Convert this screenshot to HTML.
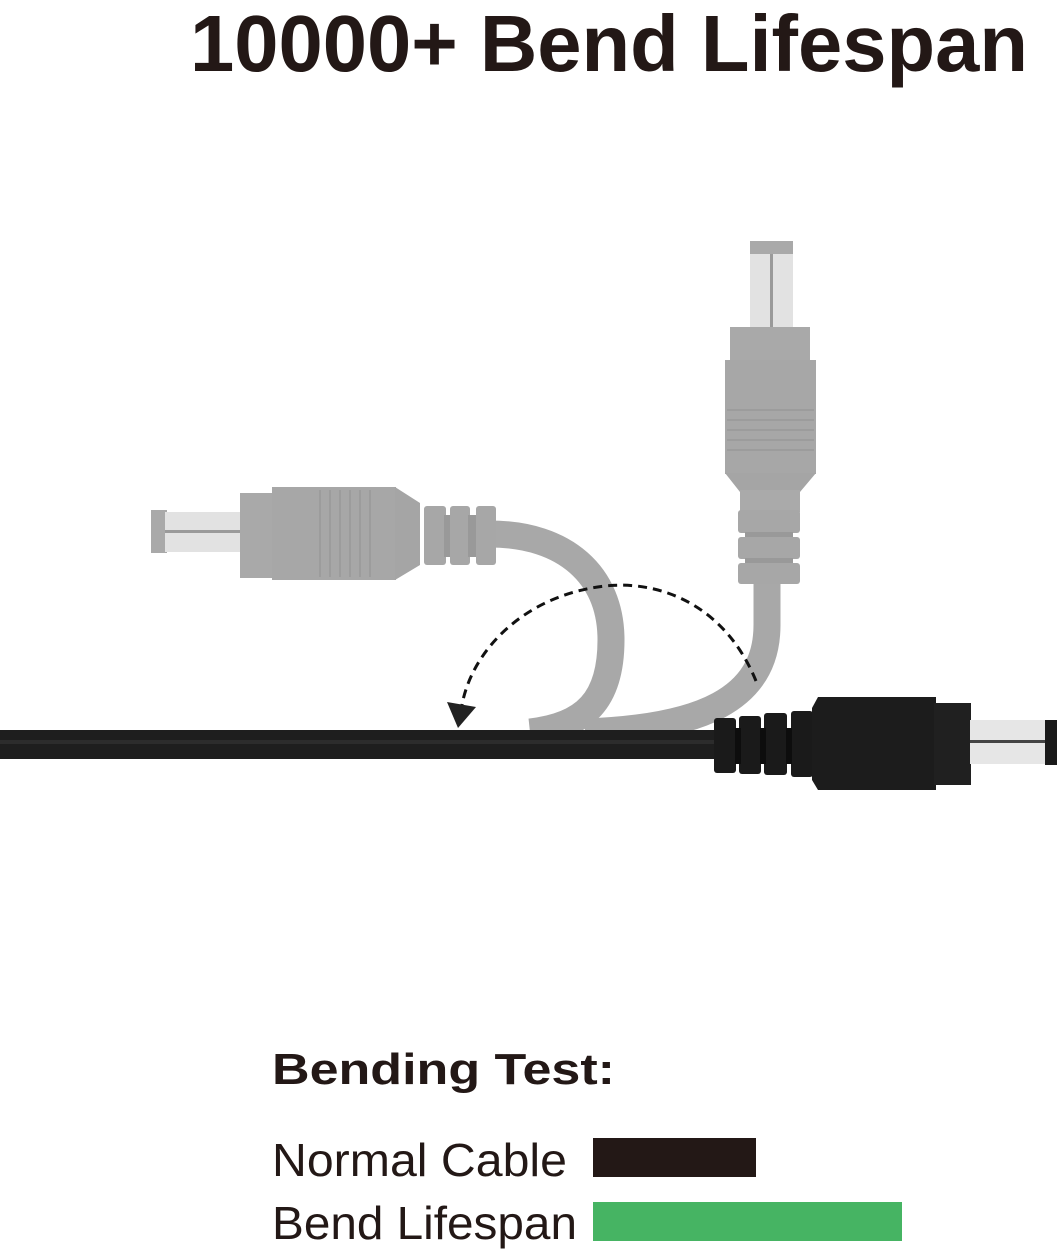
<!DOCTYPE html>
<html><head><meta charset="utf-8"><style>
html,body{margin:0;padding:0;background:#fff;}
svg{display:block;}
</style></head><body>
<svg width="1063" height="1253" viewBox="0 0 1063 1253" xmlns="http://www.w3.org/2000/svg">
<rect width="1063" height="1253" fill="#fff"/>
<text x="190" y="71" font-family="Liberation Sans, sans-serif" font-weight="bold" font-size="80" fill="#231816" textLength="838" lengthAdjust="spacingAndGlyphs">10000+ Bend Lifespan</text>

<!-- gray cables -->
<path d="M490,534 C565,534 611,575 611,640 C611,700 585,726 530,732" fill="none" stroke="#a8a8a8" stroke-width="27"/>
<path d="M767,575 L767,625 C767,700 700,728 585,732" fill="none" stroke="#a8a8a8" stroke-width="27"/>

<!-- horizontal gray connector -->
<g>
<rect x="151" y="510" width="16" height="43" fill="#a9a9a9"/>
<rect x="165" y="512" width="76" height="40" fill="#e2e2e2"/>
<rect x="165" y="530" width="76" height="3" fill="#9a9a9a"/>
<rect x="240" y="493" width="34" height="85" fill="#a9a9a9"/>
<rect x="272" y="487" width="124" height="93" fill="#a7a7a7"/>
<g stroke="#9c9c9c" stroke-width="2">
<line x1="320" y1="490" x2="320" y2="577"/><line x1="330" y1="490" x2="330" y2="577"/><line x1="340" y1="490" x2="340" y2="577"/><line x1="350" y1="490" x2="350" y2="577"/><line x1="360" y1="490" x2="360" y2="577"/><line x1="370" y1="490" x2="370" y2="577"/></g>
<polygon points="395,487 420,503 420,565 395,580" fill="#a5a5a5"/>
<rect x="424" y="506" width="22" height="59" rx="3" fill="#a7a7a7"/>
<rect x="444" y="515" width="8" height="42" fill="#999"/>
<rect x="450" y="506" width="20" height="59" rx="3" fill="#a7a7a7"/>
<rect x="468" y="515" width="10" height="42" fill="#999"/>
<rect x="476" y="506" width="20" height="59" rx="3" fill="#a7a7a7"/>
</g>

<!-- vertical gray connector -->
<g>
<rect x="750" y="241" width="43" height="14" fill="#a9a9a9"/>
<rect x="750" y="254" width="43" height="74" fill="#e2e2e2"/>
<rect x="770" y="254" width="3" height="74" fill="#9a9a9a"/>
<rect x="730" y="327" width="80" height="34" fill="#a9a9a9"/>
<rect x="725" y="360" width="91" height="114" fill="#a7a7a7"/>
<g stroke="#9c9c9c" stroke-width="2">
<line x1="727" y1="410" x2="814" y2="410"/><line x1="727" y1="420" x2="814" y2="420"/><line x1="727" y1="430" x2="814" y2="430"/><line x1="727" y1="440" x2="814" y2="440"/><line x1="727" y1="450" x2="814" y2="450"/></g>
<polygon points="725,473 816,473 800,492 740,492" fill="#a5a5a5"/>
<rect x="740" y="490" width="60" height="22" fill="#aaa"/>
<rect x="738" y="510" width="62" height="23" rx="3" fill="#a7a7a7"/>
<rect x="745" y="532" width="48" height="6" fill="#999"/>
<rect x="738" y="537" width="62" height="22" rx="3" fill="#a7a7a7"/>
<rect x="745" y="558" width="48" height="6" fill="#999"/>
<rect x="738" y="563" width="62" height="21" rx="3" fill="#a7a7a7"/>
</g>

<!-- black cable -->
<rect x="0" y="730" width="725" height="29" fill="#1e1e1e"/>
<rect x="0" y="740" width="725" height="4" fill="#2c2c2c"/>

<!-- black connector -->
<g>
<rect x="714" y="718" width="22" height="55" rx="3" fill="#1a1a1a"/>
<rect x="739" y="716" width="22" height="58" rx="3" fill="#1a1a1a"/>
<rect x="764" y="713" width="23" height="62" rx="3" fill="#1a1a1a"/>
<rect x="791" y="711" width="22" height="66" rx="3" fill="#1a1a1a"/>
<rect x="735" y="728" width="6" height="36" fill="#0d0d0d"/>
<rect x="760" y="728" width="6" height="36" fill="#0d0d0d"/>
<rect x="786" y="728" width="6" height="36" fill="#0d0d0d"/>
<path d="M812,708 L818,697 L936,697 L936,790 L818,790 L812,780 Z" fill="#1c1c1c"/>
<rect x="934" y="703" width="37" height="82" fill="#202020"/>
<rect x="970" y="720" width="77" height="44" fill="#e6e6e6"/>
<rect x="970" y="740" width="77" height="3" fill="#444"/>
<rect x="1045" y="720" width="12" height="45" fill="#1a1a1a"/>
</g>

<!-- dashed arrow -->
<path d="M756,681 C725,605 660,580 605,586 C525,595 472,650 462,705" fill="none" stroke="#111" stroke-width="3" stroke-dasharray="9,6"/>
<polygon points="447,702 476,707 458,728" fill="#222"/>

<!-- legend -->
<text x="272" y="1084" font-family="Liberation Sans, sans-serif" font-weight="bold" font-size="44" fill="#231816" textLength="343" lengthAdjust="spacingAndGlyphs">Bending Test:</text>
<text x="272" y="1176" font-family="Liberation Sans, sans-serif" font-size="46" fill="#231816" textLength="295" lengthAdjust="spacingAndGlyphs">Normal Cable</text>
<rect x="593" y="1138" width="163" height="39" fill="#231816"/>
<text x="272" y="1239" font-family="Liberation Sans, sans-serif" font-size="46" fill="#231816" textLength="305" lengthAdjust="spacingAndGlyphs">Bend Lifespan</text>
<rect x="593" y="1202" width="309" height="39" fill="#46b463"/>
</svg>
</body></html>
